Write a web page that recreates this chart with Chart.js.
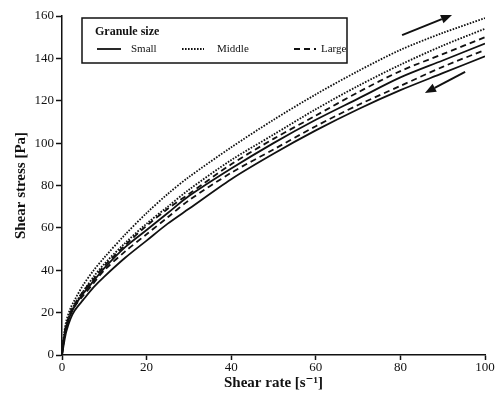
<!DOCTYPE html>
<html><head><meta charset="utf-8">
<script src="https://cdn.jsdelivr.net/npm/chart.js@4/dist/chart.umd.min.js"></script>
<style>html,body{margin:0;padding:0;background:#fff}</style>
</head><body>
<canvas id="c" width="500" height="402"></canvas>
<script>
const shearRate = [0, 0.5, 1, 2, 3, 5, 7.5, 10, 15, 20, 25, 30, 40, 50, 60, 70, 80, 90, 100];
const middleUp   = [2, 10, 16, 22, 26, 33, 40, 46, 57, 67, 76, 84, 98, 111, 123, 134, 144, 152, 159];
const middleDown = [1, 9, 14, 20, 24, 30, 37, 43, 53, 62, 70, 78, 92, 104, 116, 127, 137, 146, 154];
const largeUp    = [1, 9, 14, 20, 24, 30, 36, 42, 52, 61, 69, 76, 90, 102, 113, 124, 134, 142, 150];
const smallUp    = [0, 8, 13, 19, 23, 29, 35, 41, 51, 59, 67, 75, 88, 100, 111, 121, 131, 139, 147];
const largeDown  = [0, 8, 13, 19, 23, 28, 34, 40, 49, 57, 65, 73, 86, 97, 108, 118, 127, 136, 144];
const smallDown  = [0, 6, 11, 17, 21, 26, 32, 37, 46, 54, 62, 69, 83, 95, 106, 116, 125, 133, 141];
const xTicks = [0, 20, 40, 60, 80, 100];
const yTicks = [0, 20, 40, 60, 80, 100, 120, 140, 160];
const legendTitle = 'Granule size';
const legendLabels = ['Small', 'Middle', 'Large'];
// arrow annotations in data units: [tail, tip]
const arrowForward = [[80.4, 151], [92.2, 160.5]];
const arrowBackward = [[95.3, 133.6], [85.8, 123.7]];

const SERIF = '"Liberation Serif", "DejaVu Serif", serif';
const INK = '#111';
const DOT = [1.6, 1.4];
const DASH = [6, 4];

function pts(ys) { return shearRate.map((x, i) => ({ x, y: ys[i] })); }
function ds(ys, dash) {
  return { data: pts(ys), borderColor: INK, borderWidth: 1.8, borderDash: dash, pointRadius: 0, tension: 0.3, fill: false };
}

const legendPlugin = {
  id: 'legendBox',
  afterDraw(chart) {
    const ctx = chart.ctx;
    ctx.save();
    ctx.strokeStyle = INK; ctx.lineWidth = 1.5; ctx.setLineDash([]);
    ctx.strokeRect(82, 18, 265, 45);
    ctx.fillStyle = INK;
    ctx.textBaseline = 'middle';
    ctx.font = 'bold 12px ' + SERIF;
    ctx.fillText(legendTitle, 95, 32);
    ctx.font = '11px ' + SERIF;
    const items = [
      { dash: [], x0: 97, x1: 121, tx: 131 },
      { dash: DOT, x0: 182, x1: 204, tx: 217 },
      { dash: DASH, x0: 294, x1: 316, tx: 321 }
    ];
    const y = 49;
    items.forEach((it, i) => {
      ctx.beginPath(); ctx.setLineDash(it.dash); ctx.lineWidth = 1.8;
      ctx.moveTo(it.x0, y); ctx.lineTo(it.x1, y); ctx.stroke();
      ctx.setLineDash([]);
      ctx.fillText(legendLabels[i], it.tx, y);
    });
    // arrows
    const xs = chart.scales.x, ys = chart.scales.y;
    [arrowForward, arrowBackward].forEach(a => {
      const x0 = xs.getPixelForValue(a[0][0]), y0 = ys.getPixelForValue(a[0][1]);
      const x1 = xs.getPixelForValue(a[1][0]), y1 = ys.getPixelForValue(a[1][1]);
      const ang = Math.atan2(y1 - y0, x1 - x0);
      const L = 11, W = 4.5;
      const bx = x1 - L * Math.cos(ang), by = y1 - L * Math.sin(ang);
      ctx.beginPath(); ctx.lineWidth = 2; ctx.moveTo(x0, y0); ctx.lineTo(bx, by); ctx.stroke();
      ctx.beginPath();
      ctx.moveTo(x1, y1);
      ctx.lineTo(bx + W * Math.sin(ang), by - W * Math.cos(ang));
      ctx.lineTo(bx - W * Math.sin(ang), by + W * Math.cos(ang));
      ctx.closePath(); ctx.fill();
    });
    ctx.restore();
  }
};

new Chart(document.getElementById('c'), {
  type: 'line',
  data: {
    datasets: [
      ds(middleUp, DOT), ds(middleDown, DOT), ds(largeUp, DASH),
      ds(smallUp, []), ds(largeDown, DASH), ds(smallDown, [])
    ]
  },
  options: {
    responsive: false, animation: false,
    layout: { padding: { left: 0, right: 15, top: 16, bottom: 0 } },
    plugins: { legend: { display: false }, tooltip: { enabled: false } },
    scales: {
      x: {
        type: 'linear', min: 0, max: 100,
        afterFit(s) { s.height = 47; },
        afterBuildTicks(s) { s.ticks = xTicks.map(v => ({ value: v })); },
        grid: { drawOnChartArea: false, tickLength: 5, tickColor: INK, tickWidth: 1.5 },
        border: { color: INK, width: 1.5 },
        ticks: { color: INK, font: { family: SERIF, size: 13 }, padding: 0, maxRotation: 0 },
        title: { display: true, text: 'Shear rate [s⁻¹]', color: INK, font: { family: SERIF, size: 15, weight: 'bold' }, padding: { top: 0, bottom: 10 } }
      },
      y: {
        min: 0, max: 160,
        afterFit(s) { s.width = 62; },
        afterBuildTicks(s) { s.ticks = yTicks.map(v => ({ value: v })); },
        grid: { drawOnChartArea: false, tickLength: 6, tickColor: INK, tickWidth: 1.5 },
        border: { color: INK, width: 1.5 },
        ticks: { color: INK, font: { family: SERIF, size: 13 }, padding: 2 },
        title: { display: true, text: 'Shear stress [Pa]', color: INK, font: { family: SERIF, size: 15, weight: 'bold' }, padding: { top: 12, bottom: 0 } }
      }
    }
  },
  plugins: [legendPlugin]
});
</script>
</body></html>
